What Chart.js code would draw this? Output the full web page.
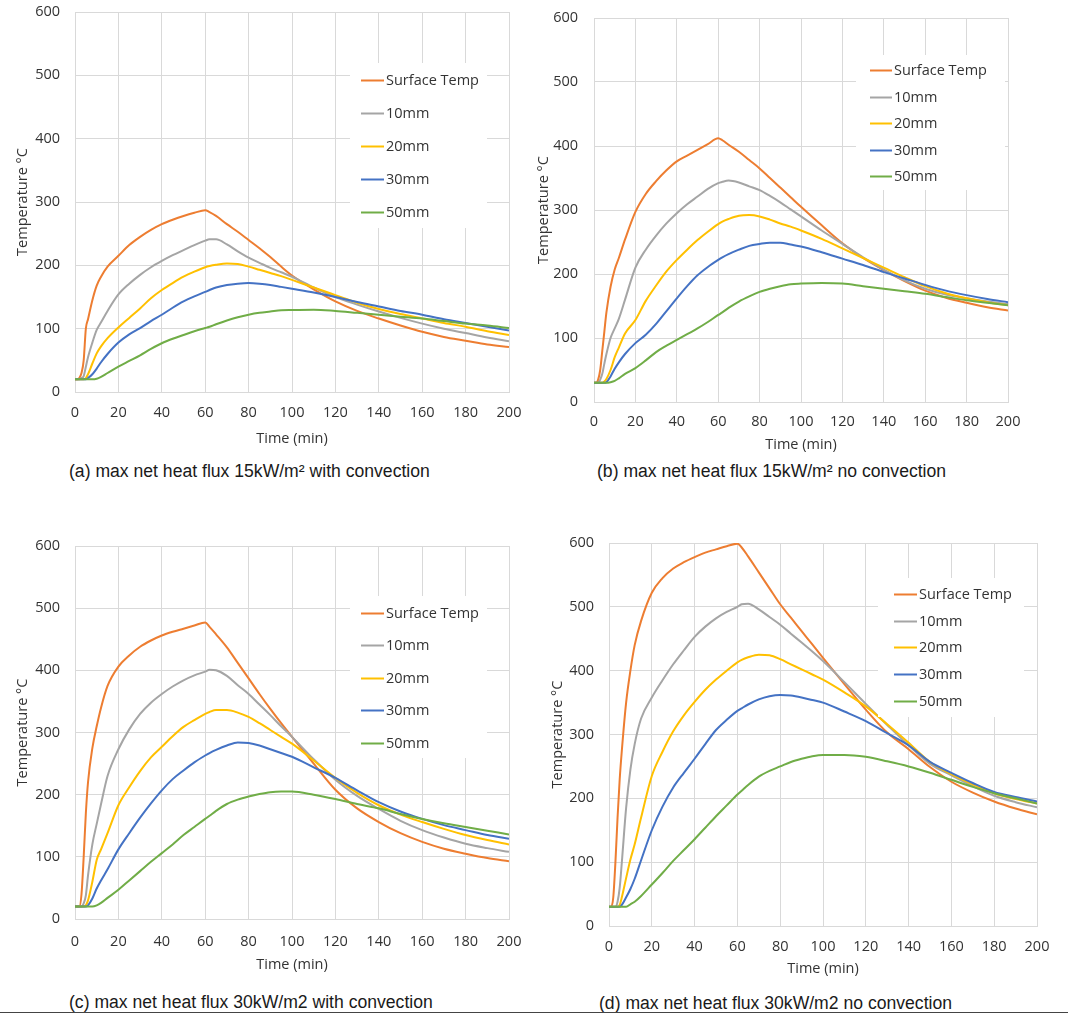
<!DOCTYPE html>
<html>
<head>
<meta charset="utf-8">
<script src="https://cdn.jsdelivr.net/npm/chart.js@4.4.1/dist/chart.umd.min.js"></script>
<style>
html,body{margin:0;padding:0;background:#fff;}
body{width:1068px;height:1014px;position:relative;overflow:hidden;}
canvas{position:absolute;}
.cap{position:absolute;font-family:"Liberation Sans",Arial,sans-serif;font-size:17.6px;color:#1a1a1a;white-space:nowrap;line-height:20px;}
.rule{position:absolute;left:0;top:1012px;width:1068px;height:1px;background:#444;}
</style>
</head>
<body>
<canvas id="pa" width="534" height="455" style="left:0;top:0"></canvas>
<canvas id="pb" width="534" height="460" style="left:534px;top:0"></canvas>
<canvas id="pc" width="534" height="455" style="left:0;top:530px"></canvas>
<canvas id="pd" width="534" height="455" style="left:534px;top:530px"></canvas>
<div class="cap" id="ca" style="left:69px;top:461px"></div>
<div class="cap" id="cb" style="left:597px;top:461px"></div>
<div class="cap" id="cc" style="left:69px;top:992px"></div>
<div class="cap" id="cd" style="left:599px;top:993px"></div>
<div class="rule"></div>
<script>
// ---------- data ----------
const times = [0,1,2,3,4,5,6,8,10,12,15,20,25,30,35,40,45,50,55,60,62,65,70,75,80,85,90,95,100,110,120,130,140,150,160,170,180,190,200];
const seriesNames = ['Surface Temp','10mm','20mm','30mm','50mm'];
const xTickValues = [0,20,40,60,80,100,120,140,160,180,200];
const yTickValues = [0,100,200,300,400,500,600];
const xAxisTitle = 'Time (min)';
const yAxisTitle = 'Temperature °C';

// (a) 15 kW/m2 with convection
const surfaceA = [20,20,22,30,50,100,115,145,168,182,198,215,232,245,256,265,272,278,283,287,284,278,265,253,240,227,213,198,184,162,143,128,116,105,95,87,81,75,71];
const mm10A   = [20,20,20,22,25,40,55,78,98,110,128,154,171,185,197,207,216,224,232,239,241,241,233,222,212,204,196,189,182,165,150,138,127,117,108,100,93,86,80];
const mm20A   = [20,20,20,20,20,22,28,45,61,72,85,102,117,132,148,161,172,182,190,197,199,201,203,202,198,193,188,183,177,165,153,141,131,123,116,109,103,96,90];
const mm30A   = [20,20,20,20,20,20,22,28,37,47,60,78,91,101,112,122,133,143,151,158,161,165,169,171,172,171,169,166,163,157,150,142,135,128,122,115,109,103,97];
const mm50A   = [20,20,20,20,20,20,20,20,21,24,30,40,49,58,68,77,84,90,96,101,103,107,113,118,122,125,127,129,129.5,130,128,125,122,119,116,112,108,105,101];

// (b) 15 kW/m2 no convection
const surfaceB = [30,30,35,50,80,110,140,180,207,225,254,297,325,345,362,376,385,394,403,412,409,402,391,378,365,350,335,320,305,276,248,225,206,189,174,163,155,148,143];
const mm10B   = [30,30,30,35,44,60,75,100,115,130,160,210,238,260,279,295,309,321,333,342,344,346,343,337,331,322,312,301,290,268,247,226,207,190,177,168,162,157,153];
const mm20B   = [30,30,30,30,30,32,36,50,70,85,107,128,158,182,204,222,238,253,266,278,282,286,291,292,290,285,279,274,268,255,240,225,210,195,181,170,162,156,151];
const mm30B   = [30,30,30,30,30,30,31,40,52,62,75,92,105,122,142,162,181,198,211,222,226,231,238,244,247,249,249,246,243,234,224,214,203,193,183,174,167,161,156];
const mm50B   = [30,30,30,30,30,30,30,31,33,37,44,53,65,78,88,97,106,115,125,136,140,147,157,165,172,177,181,184,185,186,185,181,177,173,169,164,159,155,151];

// (c) 30 kW/m2 with convection
const surfaceC = [20,20,20,40,100,170,220,275,310,340,375,406,424,438,448,456,462,467,472,477,470,458,437,412,387,362,338,315,293,250,208,178,156,138,124,113,105,98,93];
const mm10C   = [20,20,20,20,25,38,70,120,153,185,230,273,305,330,348,362,374,384,392,398,401,400,391,376,362,345,328,310,293,257,224,198,177,158,143,131,121,114,108];
const mm20C   = [20,20,20,20,20,22,30,60,95,112,138,183,212,238,260,277,294,309,320,330,333,336,336,332,325,315,304,293,282,255,227,203,183,168,156,145,135,127,120];
const mm30C   = [20,20,20,20,20,20,22,33,49,62,80,112,138,163,186,207,225,239,252,263,267,272,279,284,283,279,273,267,261,244,227,207,188,173,161,151,143,135,129];
const mm50C   = [20,20,20,20,20,20,20,20,22,26,34,47,62,77,92,106,120,135,148,161,166,174,185,192,197,201,204,205,205,200,193,185,178,169,161,154,148,142,136];

// (d) 30 kW/m2 no convection
const surfaceD = [30,30,45,100,170,230,275,350,400,440,478,522,545,560,570,578,585,590,595,599,593,579,554,529,504,483,462,441,420,379,339,303,277,249,226,209,195,184,175];
const mm10D   = [30,30,30,30,38,60,100,185,245,285,325,358,385,410,432,453,469,482,492,500,504,505,496,484,472,458,444,430,415,382,348,315,283,254,236,219,204,194,186];
const mm20D   = [30,30,30,30,30,33,45,75,104,128,170,235,273,305,330,351,370,386,400,413,417,421,425,424,418,410,402,394,386,366,344,316,287,257,238,222,208,199,192];
const mm30D   = [30,30,30,30,30,30,33,45,58,74,103,150,187,217,240,262,285,307,323,337,341,347,355,360,362,361,358,354,350,336,321,302,283,257,240,224,210,202,195];
const mm50D   = [30,30,30,30,30,30,30,30,34,38,47,65,83,102,119,136,154,172,189,206,212,221,234,243,250,257,262,266,268,268,265,258,250,240,229,218,208,200,192];

const captionA = '(a) max net heat flux 15kW/m² with convection';
const captionB = '(b) max net heat flux 15kW/m² no convection';
const captionC = '(c) max net heat flux 30kW/m2 with convection';
const captionD = '(d) max net heat flux 30kW/m2 no convection';

// ---------- styles / layout ----------
const seriesColors = ['#ED7D31','#A5A5A5','#FFC000','#4472C4','#70AD47'];
const FONT = '"Open Sans", Lato, sans-serif';
const TXT = '#333333';
const GRID = '#d9d9d9';

const legendPlugin = {
  id: 'boxLegend',
  afterDraw(chart, args, o) {
    const ctx = chart.ctx;
    ctx.save();
    ctx.fillStyle = '#ffffff';
    ctx.fillRect(o.box[0], o.box[1], o.box[2], o.box[3]);
    ctx.font = '14.5px ' + FONT;
    ctx.textBaseline = 'middle';
    ctx.textAlign = 'left';
    chart.data.datasets.forEach((ds, i) => {
      const y = Math.round(o.y0 + i * o.dy) + 0.5;
      ctx.strokeStyle = ds.borderColor;
      ctx.lineWidth = 2;
      ctx.beginPath();
      ctx.moveTo(o.x0, y);
      ctx.lineTo(o.x0 + o.len, y);
      ctx.stroke();
      ctx.fillStyle = TXT;
      ctx.fillText(ds.label, o.x0 + o.len + 2, y);
    });
    ctx.restore();
  }
};

function makeChart(id, series, g) {
  const datasets = series.map((vals, i) => ({
    label: seriesNames[i],
    data: times.map((t, k) => ({x: t, y: vals[k]})),
    borderColor: seriesColors[i],
    backgroundColor: seriesColors[i],
    borderWidth: 2,
    pointRadius: 0,
    fill: false,
    cubicInterpolationMode: 'monotone',
    order: series.length - 1 - i
  }));
  return new Chart(document.getElementById(id), {
    type: 'line',
    data: {datasets},
    plugins: [legendPlugin],
    options: {
      responsive: false,
      animation: false,
      devicePixelRatio: 1,
      layout: {padding: {top: g.top, right: g.right, left: 0, bottom: 0}},
      plugins: {
        legend: {display: false},
        tooltip: {enabled: false},
        boxLegend: g.legend
      },
      scales: {
        x: {
          type: 'linear', min: 0, max: 200,
          afterBuildTicks: s => { s.ticks = xTickValues.map(v => ({value: v})); },
          afterFit: s => { s.height = g.xH; s.paddingLeft = 0; s.paddingRight = 0; },
          grid: {color: GRID, drawTicks: false, lineWidth: 1},
          border: {display: true, color: GRID, width: 1},
          ticks: {autoSkip: false, maxRotation: 0, padding: g.xTickPad, color: TXT, font: {family: FONT, size: 14.5}},
          title: {display: true, text: xAxisTitle, color: TXT, font: {family: FONT, size: 14.5}, padding: {top: 0, bottom: g.xTitlePad}}
        },
        y: {
          type: 'linear', min: 0, max: 600,
          afterBuildTicks: s => { s.ticks = yTickValues.map(v => ({value: v})); },
          afterFit: s => { s.width = g.yW; s.paddingTop = 0; s.paddingBottom = 0; },
          grid: {color: GRID, drawTicks: false, lineWidth: 1},
          border: {display: true, color: GRID, width: 1},
          ticks: {padding: g.yTickPad, color: TXT, font: {family: FONT, size: 14.5}},
          title: {display: true, text: yAxisTitle, color: TXT, font: {family: FONT, size: 14.5}, padding: {top: g.yTitlePad, bottom: 0}}
        }
      }
    }
  });
}

const layoutA = {top: 12, right: 25, yW: 75, xH: 63, xTickPad: 12.6, xTitlePad: 7.3, yTickPad: 15, yTitlePad: 14.3,
  legend: {box: [350, 63, 137, 165], x0: 361, len: 23, y0: 80, dy: 33}};
const layoutB = {top: 18, right: 60, yW: 60, xH: 58, xTickPad: 11.6, xTitlePad: 6.3, yTickPad: 16, yTitlePad: 1.3,
  legend: {box: [322, 55, 149, 135], x0: 336, len: 22, y0: 70, dy: 26.6}};
const layoutC = {top: 16, right: 25, yW: 75, xH: 66, xTickPad: 14, xTitlePad: 11.3, yTickPad: 15, yTitlePad: 14.3,
  legend: {box: [350, 66, 137, 162], x0: 361, len: 23, y0: 83, dy: 32.4}};
const layoutD = {top: 13, right: 31, yW: 75, xH: 59, xTickPad: 12, xTitlePad: 7.3, yTickPad: 15, yTitlePad: 15.3,
  legend: {box: [344, 48, 146, 139], x0: 360, len: 23, y0: 64, dy: 26.7}};

makeChart('pa', [surfaceA, mm10A, mm20A, mm30A, mm50A], layoutA);
makeChart('pb', [surfaceB, mm10B, mm20B, mm30B, mm50B], layoutB);
makeChart('pc', [surfaceC, mm10C, mm20C, mm30C, mm50C], layoutC);
makeChart('pd', [surfaceD, mm10D, mm20D, mm30D, mm50D], layoutD);

document.getElementById('ca').textContent = captionA;
document.getElementById('cb').textContent = captionB;
document.getElementById('cc').textContent = captionC;
document.getElementById('cd').textContent = captionD;
</script>
</body>
</html>
